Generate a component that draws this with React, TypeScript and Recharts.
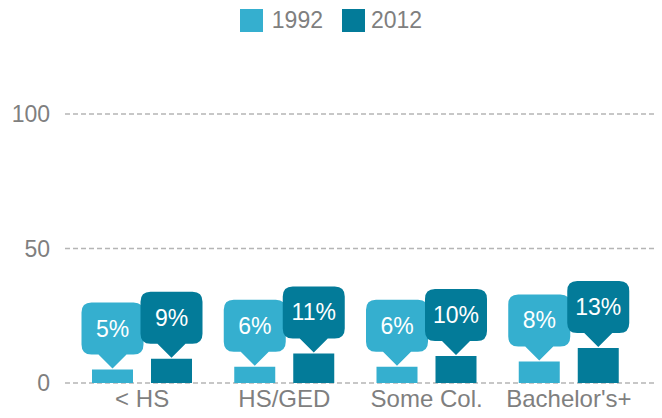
import { BarChart, Bar, XAxis, YAxis, CartesianGrid, LabelList } from "recharts";

const categories = ["< HS", "HS/GED", "Some Col.", "Bachelor's+"];
const values1992 = [5, 6, 6, 8];
const values2012 = [9, 11, 10, 13];
const yTicks = [0, 50, 100];

const LIGHT = "#35afcf";
const DARK = "#037b99";
const GREY = "#7f7f7f";
const FONT = "'Liberation Sans', Arial, sans-serif";

const data = categories.map((name, i) => ({ name, y1992: values1992[i], y2012: values2012[i] }));

// speech-bubble label sitting above each bar
function bubble(color: string) {
  return (props: any) => {
    const { x, y, width, value } = props;
    const cx = Number(x) + Number(width) / 2;
    const tip = Number(y) - 1;
    const w = 62;
    const h = 52;
    const ph = 14;
    const pw = 14;
    const r = 10;
    const left = cx - w / 2;
    const right = cx + w / 2;
    const bottom = tip - ph;
    const top = bottom - h;
    const d = `M${left + r},${top} H${right - r} Q${right},${top} ${right},${top + r} V${bottom - r} Q${right},${bottom} ${right - r},${bottom} H${cx + pw} L${cx},${tip} L${cx - pw},${bottom} H${left + r} Q${left},${bottom} ${left},${bottom - r} V${top + r} Q${left},${top} ${left + r},${top} Z`;
    return (
      <g>
        <path d={d} fill={color} />
        <text x={cx} y={top + h / 2} textAnchor="middle" dominantBaseline="central" fill="#fff" fontSize={23} fontFamily={FONT}>
          {`${value}%`}
        </text>
      </g>
    );
  };
}

export default function App() {
  return (
    <div style={{ position: "absolute", left: 0, top: 0, width: 662, height: 418, background: "#fff", fontFamily: FONT }}>
      <div style={{ position: "absolute", top: 9, left: 0, width: 662, display: "flex", justifyContent: "center", alignItems: "center", fontSize: 23, color: GREY }}>
        <span style={{ width: 23, height: 23, background: LIGHT, display: "inline-block", marginRight: 9 }} />
        <span style={{ marginRight: 19, lineHeight: "23px" }}>1992</span>
        <span style={{ width: 23, height: 23, background: DARK, display: "inline-block", marginRight: 6 }} />
        <span style={{ lineHeight: "23px" }}>2012</span>
      </div>
      <BarChart width={662} height={418} data={data} margin={{ top: 114, right: 7, left: 0, bottom: 0 }} barSize={41} barGap={18}>
        <CartesianGrid vertical={false} stroke="#b5b5b5" strokeWidth={1.5} strokeDasharray="5 3" />
        <XAxis
          dataKey="name"
          height={35}
          padding={{ left: 6, right: 15 }}
          axisLine={false}
          tickLine={false}
          tickSize={0}
          tickMargin={7}
          tick={{ fill: GREY, fontSize: 24, fontFamily: FONT }}
          interval={0}
        />
        <YAxis
          width={65}
          domain={[0, 100]}
          ticks={yTicks}
          axisLine={false}
          tickLine={false}
          tickSize={0}
          tickMargin={15}
          tick={{ fill: GREY, fontSize: 23, fontFamily: FONT }}
        />
        <Bar dataKey="y1992" fill={LIGHT} isAnimationActive={false}>
          <LabelList dataKey="y1992" content={bubble(LIGHT)} />
        </Bar>
        <Bar dataKey="y2012" fill={DARK} isAnimationActive={false}>
          <LabelList dataKey="y2012" content={bubble(DARK)} />
        </Bar>
      </BarChart>
    </div>
  );
}
